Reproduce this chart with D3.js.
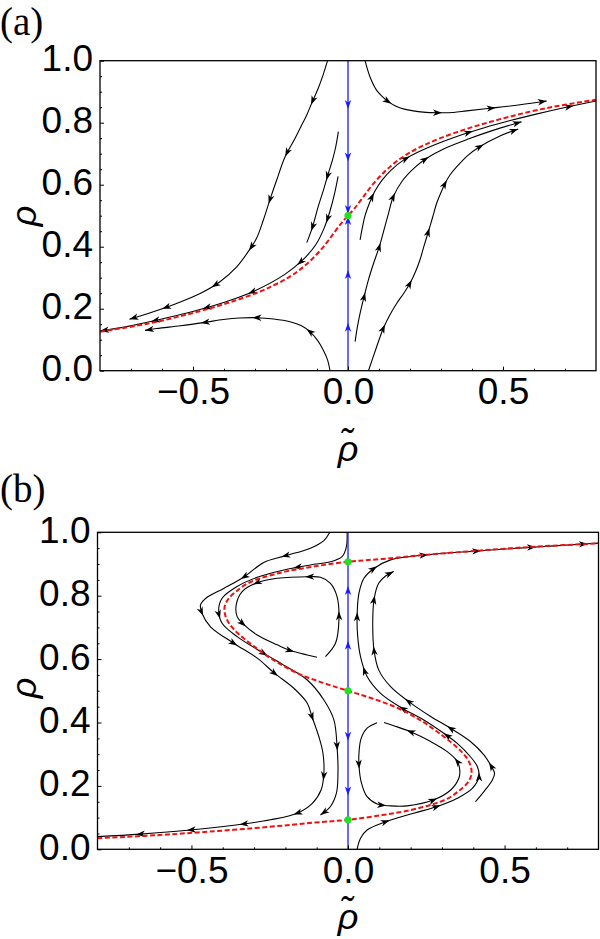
<!DOCTYPE html>
<html><head><meta charset="utf-8">
<script src="https://cdn.jsdelivr.net/npm/d3@7"></script>
<style>body{margin:0;background:#fff} svg{display:block}</style>
</head><body>
<svg id="chart" width="600" height="939"></svg>
<script>
// ---------------- data ----------------
const xTickValues = [-0.5, 0.0, 0.5];
const yTickValues = [0.0, 0.2, 0.4, 0.6, 0.8, 1.0];
const xMinorTicks = [-0.7,-0.6,-0.4,-0.3,-0.2,-0.1,0.1,0.2,0.3,0.4,0.6,0.7];
const yMinorTicks = [0.05,0.1,0.15,0.25,0.3,0.35,0.45,0.5,0.55,0.65,0.7,0.75,0.85,0.9,0.95];

// panel (a)
const aSeparatrix = [[-0.80,0.126],[-0.70,0.142],[-0.62,0.157],[-0.54,0.176],[-0.46,0.197],[-0.38,0.221],[-0.30,0.249],[-0.24,0.275],[-0.19,0.302],[-0.15,0.330],[-0.11,0.366],[-0.075,0.405],[-0.045,0.445],[-0.02,0.478],[0.0,0.50],[0.02,0.522],[0.045,0.555],[0.075,0.595],[0.11,0.634],[0.15,0.670],[0.19,0.698],[0.24,0.725],[0.30,0.751],[0.38,0.779],[0.46,0.803],[0.54,0.824],[0.62,0.843],[0.70,0.858],[0.80,0.874]];
const aFixedPoints = [[0,0.5]];
const aBlueDown = [0.857,0.688,0.518];
const aBlueUp = [0.142,0.312,0.486];
const aStreamL1 = [[-0.066,1.0],[-0.080,0.955],[-0.096,0.911],[-0.115,0.868],[-0.133,0.825],[-0.152,0.787],[-0.171,0.749],[-0.203,0.690],[-0.230,0.615],[-0.252,0.551],[-0.273,0.486],[-0.295,0.427],[-0.322,0.384],[-0.359,0.335],[-0.413,0.287],[-0.477,0.249],[-0.553,0.217],[-0.628,0.190],[-0.705,0.166]];
const aArrowsL1 = [[-0.115,0.872],[-0.204,0.708],[-0.259,0.552],[-0.312,0.398],[-0.426,0.274],[-0.586,0.198],[-0.705,0.166]];
const aStreamL2 = [[-0.031,0.771],[-0.040,0.720],[-0.050,0.680],[-0.066,0.628],[-0.080,0.580],[-0.096,0.530],[-0.114,0.465],[-0.133,0.413]];
const aArrowsL2 = [[-0.066,0.628],[-0.114,0.462]];
const aStreamL3 = [[-0.032,0.627],[-0.043,0.573],[-0.059,0.512],[-0.077,0.460],[-0.103,0.408],[-0.145,0.358],[-0.205,0.310],[-0.300,0.258],[-0.380,0.227],[-0.457,0.203],[-0.540,0.181],[-0.630,0.160],[-0.710,0.143],[-0.800,0.128]];
const aArrowsL3 = [[-0.064,0.490],[-0.154,0.350],[-0.309,0.254],[-0.457,0.203],[-0.623,0.161],[-0.800,0.128]];
const aStreamL4 = [[-0.058,0.0],[-0.066,0.035],[-0.080,0.067],[-0.100,0.100],[-0.123,0.126],[-0.150,0.145],[-0.187,0.158],[-0.240,0.167],[-0.295,0.171],[-0.350,0.170],[-0.402,0.165],[-0.461,0.156],[-0.540,0.145],[-0.617,0.136],[-0.655,0.130]];
const aArrowsL4 = [[-0.123,0.126],[-0.295,0.171],[-0.461,0.156],[-0.655,0.130]];
const aStreamR1 = [[0.055,1.0],[0.062,0.975],[0.072,0.945],[0.092,0.905],[0.110,0.885],[0.130,0.868],[0.155,0.853],[0.185,0.843],[0.243,0.834],[0.291,0.832],[0.340,0.833],[0.383,0.838],[0.463,0.847],[0.555,0.858],[0.641,0.870]];
const aArrowsR1 = [[0.130,0.868],[0.291,0.832],[0.463,0.847],[0.641,0.870]];
const aStreamR2 = [[0.039,0.422],[0.046,0.460],[0.055,0.500],[0.069,0.540],[0.087,0.580],[0.110,0.615],[0.140,0.648],[0.180,0.680],[0.230,0.707],[0.290,0.733],[0.360,0.759],[0.440,0.784],[0.520,0.806],[0.600,0.826],[0.700,0.849],[0.800,0.870]];
const aArrowsR2 = [[0.082,0.561],[0.189,0.685],[0.389,0.767],[0.716,0.852]];
const aStreamR3 = [[0.023,0.094],[0.030,0.140],[0.040,0.190],[0.052,0.239],[0.065,0.290],[0.082,0.345],[0.101,0.400],[0.115,0.450],[0.130,0.505],[0.146,0.561],[0.175,0.612],[0.215,0.655],[0.255,0.686],[0.310,0.716],[0.390,0.748],[0.470,0.776],[0.560,0.803]];
const aArrowsR3 = [[0.052,0.239],[0.101,0.400],[0.146,0.561],[0.248,0.682],[0.560,0.803]];
const aStreamR4 = [[0.066,0.0],[0.090,0.070],[0.114,0.137],[0.135,0.180],[0.157,0.217],[0.180,0.250],[0.200,0.282],[0.218,0.320],[0.232,0.357],[0.246,0.405],[0.259,0.448],[0.273,0.495],[0.286,0.540],[0.300,0.575],[0.313,0.604],[0.330,0.633],[0.351,0.658],[0.385,0.693],[0.426,0.723],[0.490,0.757],[0.549,0.780]];
const aArrowsR4 = [[0.114,0.137],[0.200,0.282],[0.259,0.448],[0.313,0.604],[0.426,0.723],[0.549,0.780]];

// panel (b)
const bSeparatrix = [[-0.80,0.035],[-0.62,0.044],[-0.44,0.056],[-0.25,0.071],[-0.11,0.084],[0.0,0.093],[0.11,0.108],[0.20,0.124],[0.27,0.142],[0.32,0.161],[0.355,0.185],[0.382,0.21],[0.394,0.235],[0.392,0.262],[0.378,0.29],[0.35,0.32],[0.30,0.36],[0.235,0.405],[0.16,0.445],[0.08,0.475],[0.0,0.50],[-0.08,0.525],[-0.16,0.555],[-0.235,0.595],[-0.30,0.64],[-0.35,0.68],[-0.378,0.71],[-0.392,0.738],[-0.394,0.765],[-0.382,0.79],[-0.355,0.815],[-0.32,0.839],[-0.27,0.858],[-0.20,0.876],[-0.11,0.892],[0.0,0.907],[0.11,0.916],[0.25,0.929],[0.44,0.944],[0.62,0.956],[0.80,0.965]];
const bFixedPoints = [[0,0.907],[0,0.5],[0,0.093]];
const bBlueUp = [0.818,0.645];
const bBlueDown = [0.355,0.182];
const bStreamUL1 = [[-0.058,1.0],[-0.077,0.974],[-0.120,0.950],[-0.200,0.926],[-0.269,0.905],[-0.331,0.860],[-0.397,0.823],[-0.450,0.795],[-0.471,0.771],[-0.466,0.744],[-0.439,0.702],[-0.365,0.650],[-0.290,0.603],[-0.234,0.555],[-0.173,0.508],[-0.130,0.461],[-0.115,0.418],[-0.093,0.355],[-0.080,0.303],[-0.077,0.240],[-0.086,0.187],[-0.114,0.145],[-0.162,0.114],[-0.248,0.093],[-0.333,0.080],[-0.503,0.061],[-0.663,0.048],[-0.800,0.040]];
const bArrowsUL1 = [[-0.200,0.926],[-0.331,0.860],[-0.466,0.750],[-0.365,0.650],[-0.234,0.555],[-0.115,0.418],[-0.077,0.229],[-0.162,0.114],[-0.333,0.080],[-0.503,0.061],[-0.663,0.048]];
const bStreamUL2 = [[-0.003,1.0],[-0.005,0.955],[-0.019,0.923],[-0.056,0.907],[-0.120,0.897],[-0.205,0.881],[-0.290,0.858],[-0.354,0.829],[-0.402,0.792],[-0.413,0.755],[-0.402,0.713],[-0.354,0.671],[-0.269,0.618],[-0.205,0.581],[-0.130,0.534],[-0.077,0.471],[-0.045,0.408],[-0.035,0.324],[-0.032,0.240],[-0.037,0.177],[-0.056,0.135],[-0.088,0.108]];
const bArrowsUL2 = [[-0.163,0.889],[-0.410,0.740],[-0.269,0.618],[-0.035,0.324],[-0.088,0.108]];
const bLoopUL = [[-0.072,0.608],[-0.040,0.650],[-0.029,0.723],[-0.035,0.797],[-0.056,0.839],[-0.088,0.858],[-0.125,0.860],[-0.226,0.855],[-0.290,0.841],[-0.338,0.813],[-0.357,0.771],[-0.354,0.734],[-0.335,0.711],[-0.290,0.676],[-0.226,0.645],[-0.184,0.627],[-0.130,0.613],[-0.099,0.606]];
const bArrowsLoopUL = [[-0.032,0.739],[-0.125,0.860],[-0.290,0.841],[-0.335,0.711],[-0.184,0.627]];
const bLoopLR = [[0.093,0.399],[0.061,0.382],[0.042,0.350],[0.035,0.303],[0.035,0.266],[0.042,0.213],[0.061,0.166],[0.093,0.143],[0.136,0.137],[0.189,0.137],[0.274,0.156],[0.328,0.187],[0.354,0.224],[0.357,0.250],[0.349,0.277],[0.317,0.308],[0.264,0.340],[0.200,0.371],[0.146,0.390],[0.115,0.400]];
const bArrowsLoopLR = [[0.035,0.266],[0.109,0.139],[0.274,0.156],[0.349,0.277],[0.200,0.371]];
const bStreamLR2 = [[0.029,0.0],[0.040,0.035],[0.061,0.061],[0.120,0.087],[0.210,0.114],[0.285,0.135],[0.349,0.161],[0.397,0.192],[0.418,0.229],[0.413,0.261],[0.391,0.292],[0.349,0.334],[0.306,0.366],[0.242,0.408],[0.173,0.445],[0.104,0.492],[0.061,0.545],[0.040,0.608],[0.031,0.671],[0.029,0.734],[0.035,0.808],[0.051,0.855],[0.083,0.886],[0.136,0.913],[0.242,0.928],[0.413,0.941],[0.589,0.953],[0.754,0.963],[0.800,0.966]];
const bArrowsLR2 = [[0.120,0.087],[0.285,0.135],[0.418,0.229],[0.317,0.361],[0.173,0.445],[0.056,0.566],[0.029,0.734],[0.083,0.886],[0.242,0.928],[0.413,0.941],[0.589,0.953],[0.754,0.963]];
const bStreamLR1 = [[0.407,0.150],[0.434,0.182],[0.461,0.219],[0.468,0.240],[0.457,0.263],[0.434,0.298],[0.391,0.340],[0.327,0.382],[0.264,0.419],[0.194,0.466],[0.136,0.513],[0.098,0.566],[0.083,0.629],[0.079,0.713],[0.083,0.787],[0.098,0.839],[0.120,0.862],[0.146,0.876]];
const bArrowsLR1 = [[0.457,0.263],[0.327,0.382],[0.194,0.466],[0.083,0.629],[0.083,0.787],[0.146,0.876]];

// ---------------- drawing ----------------
const svg = d3.select("#chart");
const FONT = "'Liberation Sans', Arial, Helvetica, sans-serif";

function arrowHead(g, tip, angle, color) {
  g.append("path")
    .attr("d", "M0,0 L-9,-3.2 L-6.5,0 L-9,3.2 Z")
    .attr("fill", color)
    .attr("transform", `translate(${tip.x},${tip.y}) rotate(${angle*180/Math.PI})`);
}

function drawStream(g, x, y, pts, arrows) {
  const line = d3.line().x(d => x(d[0])).y(d => y(d[1])).curve(d3.curveCatmullRom.alpha(0.5));
  const path = g.append("path").attr("d", line(pts))
    .attr("fill", "none").attr("stroke", "#000").attr("stroke-width", 1.1);
  const node = path.node();
  const L = node.getTotalLength();
  const s = [];
  for (let l = 0; l <= L; l += 1) s.push(node.getPointAtLength(l));
  s.push(node.getPointAtLength(L));
  const n = s.length;
  arrows.forEach(a => {
    const px = x(a[0]), py = y(a[1]);
    let bi = 0, bd = Infinity;
    s.forEach((q, i) => { const d = (q.x-px)**2 + (q.y-py)**2; if (d < bd) { bd = d; bi = i; } });
    const atEnd = bi >= n - 6;
    const ti = atEnd ? n - 1 : Math.min(n - 1, bi + 4);
    const i0 = Math.max(0, ti - 5), i1 = Math.min(n - 1, ti + (atEnd ? 0 : 2));
    const ang = Math.atan2(s[i1].y - s[i0].y, s[i1].x - s[i0].x);
    arrowHead(g, s[ti], ang, "#000");
  });
}

function drawPanel(cfg) {
  const x = d3.scaleLinear().domain([-0.8, 0.8]).range([cfg.left, cfg.right]);
  const y = d3.scaleLinear().domain([0, 1]).range([cfg.bottom, cfg.top]);
  const g = svg.append("g");
  const clipId = "clip" + cfg.id;
  svg.append("clipPath").attr("id", clipId).append("rect")
    .attr("x", cfg.left).attr("y", cfg.top).attr("width", cfg.right - cfg.left).attr("height", cfg.bottom - cfg.top);
  const gc = g.append("g").attr("clip-path", `url(#${clipId})`);

  cfg.streams.forEach(st => drawStream(gc, x, y, st[0], st[1]));

  // separatrix (red dashed)
  const line = d3.line().x(d => x(d[0])).y(d => y(d[1])).curve(d3.curveCatmullRom.alpha(0.5));
  gc.append("path").attr("d", line(cfg.sep)).attr("fill", "none")
    .attr("stroke", "#f01010").attr("stroke-width", 2).attr("stroke-dasharray", "5,2.5");

  // blue deterministic line
  gc.append("line").attr("x1", x(0)).attr("x2", x(0)).attr("y1", y(0)).attr("y2", y(1))
    .attr("stroke", "#1a1aff").attr("stroke-width", 1.3);
  cfg.blueUp.forEach(v => arrowHead(gc, {x: x(0), y: y(v) - 4}, -Math.PI/2, "#1a1aff"));
  cfg.blueDown.forEach(v => arrowHead(gc, {x: x(0), y: y(v) + 4}, Math.PI/2, "#1a1aff"));

  // fixed points
  gc.selectAll("circle.fp").data(cfg.fixed).enter().append("circle")
    .attr("cx", d => x(d[0])).attr("cy", d => y(d[1])).attr("r", 3.6).attr("fill", "#22e022");

  // frame
  g.append("rect").attr("x", cfg.left).attr("y", cfg.top)
    .attr("width", cfg.right - cfg.left).attr("height", cfg.bottom - cfg.top)
    .attr("fill", "none").attr("stroke", "#000").attr("stroke-width", 1.3);

  // axes
  const fmt = d3.format(".1f");
  const yAx = g.append("g").attr("transform", `translate(${cfg.left},0)`)
    .call(d3.axisLeft(y).tickValues(yTickValues).tickSize(-4).tickPadding(7).tickFormat(fmt));
  const yAxMinor = g.append("g").attr("transform", `translate(${cfg.left},0)`)
    .call(d3.axisLeft(y).tickValues(yMinorTicks).tickSize(-2).tickFormat(""));
  const xAx = g.append("g").attr("transform", `translate(0,${cfg.bottom})`)
    .call(d3.axisBottom(x).tickValues(xTickValues).tickSize(-4).tickPadding(7).tickFormat(fmt));
  const xAxMinor = g.append("g").attr("transform", `translate(0,${cfg.bottom})`)
    .call(d3.axisBottom(x).tickValues(xMinorTicks).tickSize(-2).tickFormat(""));
  [yAx, yAxMinor, xAx, xAxMinor].forEach(a => {
    a.select(".domain").remove();
    a.selectAll(".tick line").attr("stroke", "#000").attr("stroke-width", 1);
    a.selectAll("text").attr("font-family", FONT).attr("font-size", 37).attr("fill", "#000");
  });
  yAx.selectAll("text").attr("dy", "0.27em");

  // axis labels
  svg.append("text").attr("transform", `translate(${cfg.ylabX},${cfg.ylabY}) rotate(-90)`)
    .attr("text-anchor", "middle").attr("font-family", FONT).attr("font-style", "italic")
    .attr("font-size", 36).text("\u03C1");
  svg.append("text").attr("x", x(0)).attr("y", cfg.xlabY)
    .attr("text-anchor", "middle").attr("font-family", FONT).attr("font-style", "italic")
    .attr("font-size", 36).text("\u03C1\u0303");
  svg.append("text").attr("x", 0).attr("y", cfg.panelY)
    .attr("font-family", "'Liberation Serif', 'Times New Roman', serif").attr("font-size", 39).text(cfg.label);
}

drawPanel({id: "a", label: "(a)", panelY: 35, left: 100, right: 596, top: 60.7, bottom: 370.7,
  ylabX: 36, ylabY: 216, xlabY: 461,
  sep: aSeparatrix, fixed: aFixedPoints, blueUp: aBlueUp, blueDown: aBlueDown,
  streams: [[aStreamL1, aArrowsL1], [aStreamL2, aArrowsL2], [aStreamL3, aArrowsL3], [aStreamL4, aArrowsL4],
            [aStreamR1, aArrowsR1], [aStreamR2, aArrowsR2], [aStreamR3, aArrowsR3], [aStreamR4, aArrowsR4]]});

drawPanel({id: "b", label: "(b)", panelY: 502, left: 97.5, right: 598.5, top: 532.3, bottom: 849.3,
  ylabX: 36, ylabY: 688, xlabY: 929,
  sep: bSeparatrix, fixed: bFixedPoints, blueUp: bBlueUp, blueDown: bBlueDown,
  streams: [[bStreamUL1, bArrowsUL1], [bStreamUL2, bArrowsUL2], [bLoopUL, bArrowsLoopUL],
            [bLoopLR, bArrowsLoopLR], [bStreamLR2, bArrowsLR2], [bStreamLR1, bArrowsLR1]]});
</script>
</body></html>
